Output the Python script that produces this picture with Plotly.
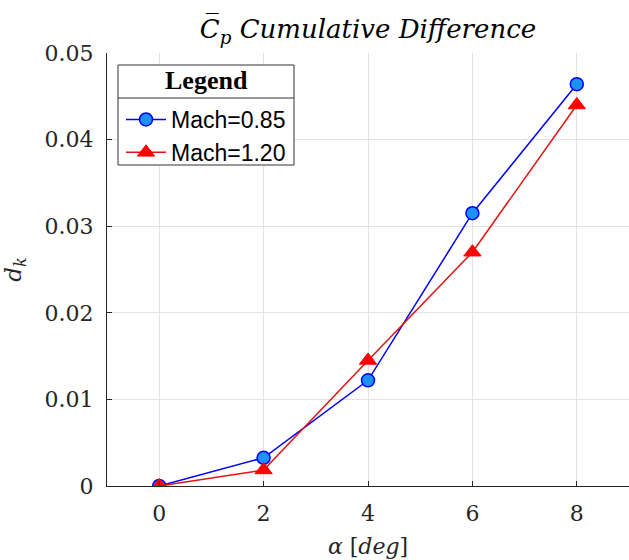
import plotly.graph_objects as go

alpha_deg = [0, 2, 4, 6, 8]
dk_mach085 = [0.0, 0.00326, 0.0122, 0.0315, 0.0464]
dk_mach120 = [0.0, 0.00185, 0.0145, 0.0270, 0.0440]
series_names = ["Mach=0.85", "Mach=1.20"]
x_ticks = [0, 2, 4, 6, 8]
y_ticks = [0, 0.01, 0.02, 0.03, 0.04, 0.05]

W, H = 629, 560
L, R, T, B = 107, 0, 53, 74
pw, ph = W - L - R, H - T - B

def px_x(p):
    return (p - L) / pw

def px_y(p):
    return (H - B - p) / ph

axis_col = "#262626"
grid_col = "#e3e3e3"
tick_font = dict(family="DejaVu Serif", size=22, color=axis_col)

fig = go.Figure()
fig.add_trace(go.Scatter(
    x=alpha_deg, y=dk_mach085, name=series_names[0], mode="lines+markers",
    line=dict(color="rgb(0,0,255)", width=1.5),
    marker=dict(symbol="circle", size=13, color="rgb(30,144,255)",
                line=dict(color="rgb(0,0,255)", width=1.5)),
))
fig.add_trace(go.Scatter(
    x=alpha_deg, y=dk_mach120, name=series_names[1], mode="lines+markers",
    line=dict(color="rgb(225,20,20)", width=1.5),
    marker=dict(symbol="triangle-up", size=15, color="rgb(255,0,0)",
                line=dict(color="rgb(255,0,0)", width=1)),
))

fig.update_layout(
    width=W, height=H,
    margin=dict(l=L, r=R, t=T, b=B),
    paper_bgcolor="white", plot_bgcolor="white",
    title=dict(text="<i>C\u0305<sub>p</sub> Cumulative Difference</i>",
               x=px_x(368), xref="paper", xanchor="center",
               y=1 - 29 / H, yref="container", yanchor="middle",
               font=dict(family="DejaVu Serif", size=26, color="black")),
    showlegend=True,
    legend=dict(x=px_x(121), y=px_y(98), xanchor="left", yanchor="top",
                bgcolor="rgba(0,0,0,0)", borderwidth=0,
                font=dict(family="Liberation Sans", size=23, color="black"),
                tracegroupgap=0, itemwidth=40),
)

fig.update_xaxes(
    range=[-1, 9], tickvals=x_ticks, ticks="inside", ticklen=5, tickwidth=1,
    tickcolor=axis_col, showline=True, linecolor=axis_col, linewidth=1,
    showgrid=True, gridcolor=grid_col, gridwidth=1, zeroline=False,
    tickfont=tick_font, ticklabelstandoff=8,
    title=dict(text="<i>\u03b1</i> [<i>deg</i>]", standoff=13,
               font=dict(family="DejaVu Serif", size=22, color=axis_col)),
)
fig.update_yaxes(
    range=[0, 0.05], tickvals=y_ticks, ticks="inside", ticklen=5, tickwidth=1,
    tickcolor=axis_col, showline=True, linecolor=axis_col, linewidth=1,
    showgrid=True, gridcolor=grid_col, gridwidth=1, zeroline=False,
    tickfont=tick_font, ticklabelstandoff=8,
    title=dict(text="<i>d<sub>k</sub></i>", standoff=18,
               font=dict(family="DejaVu Serif", size=23, color=axis_col)),
)

# legend frame, header separator and header text
fig.add_shape(type="rect", xref="paper", yref="paper",
              x0=px_x(118), x1=px_x(294), y0=px_y(165), y1=px_y(65),
              line=dict(color="#333333", width=1), fillcolor="white", layer="above")
fig.add_shape(type="line", xref="paper", yref="paper",
              x0=px_x(118), x1=px_x(294), y0=px_y(98), y1=px_y(98),
              line=dict(color="#333333", width=1), layer="above")
fig.add_annotation(text="<b>Legend</b>", xref="paper", yref="paper",
                   x=px_x(206), y=px_y(81), xanchor="center", yanchor="middle",
                   showarrow=False,
                   font=dict(family="Liberation Serif", size=26, color="black"))

fig.write_html("out.html")
